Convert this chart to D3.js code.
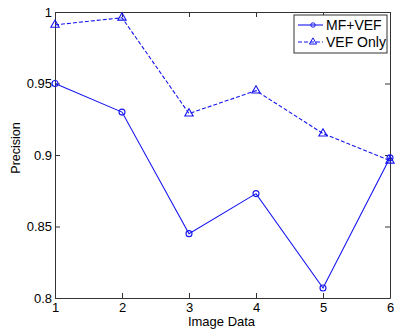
<!DOCTYPE html>
<html>
<head>
<meta charset="utf-8">
<script src="https://cdn.jsdelivr.net/npm/d3@7"></script>
<style>
  body { margin: 0; background: #fff; }
  svg { display: block; font-family: "Liberation Sans", Arial, sans-serif; }
</style>
</head>
<body>
<div id="chart"></div>
<script>
// data
const imageIds = [1, 2, 3, 4, 5, 6];
const mfVef = [0.95, 0.93, 0.845, 0.873, 0.807, 0.898];
const vefOnly = [0.991, 0.996, 0.929, 0.945, 0.915, 0.896];
const yTicks = [0.8, 0.85, 0.9, 0.95, 1];
const seriesNames = ["MF+VEF", "VEF Only"];

const width = 396, height = 333;
const margin = {top: 12, right: 6, bottom: 35, left: 55};
const blue = "#1515f0";

const svg = d3.select("#chart").append("svg")
  .attr("width", width)
  .attr("height", height);

const x = d3.scaleLinear().domain([1, 6]).range([margin.left, width - margin.right]);
const y = d3.scaleLinear().domain([0.8, 1]).range([height - margin.bottom, margin.top]);

const fmt = d => String(+d.toFixed(2));

// axes, MATLAB style ticks pointing inward
const axisStyle = g => {
  g.select(".domain").attr("stroke", "#333");
  g.selectAll(".tick line").attr("stroke", "#333");
  g.selectAll("text").attr("fill", "#000").style("font-size", "13px");
};

svg.append("g")
  .attr("transform", `translate(0,${y(0.8)})`)
  .call(d3.axisBottom(x).tickValues(imageIds).tickSizeInner(-5).tickSizeOuter(0).tickPadding(5).tickFormat(d3.format("d")))
  .call(axisStyle);

svg.append("g")
  .attr("transform", `translate(0,${y(1)})`)
  .call(d3.axisTop(x).tickValues(imageIds).tickSizeInner(-5).tickSizeOuter(0).tickFormat(""))
  .call(axisStyle);

svg.append("g")
  .attr("transform", `translate(${x(1)},0)`)
  .call(d3.axisLeft(y).tickValues(yTicks).tickSizeInner(-5).tickSizeOuter(0).tickPadding(3).tickFormat(fmt))
  .call(axisStyle);

svg.append("g")
  .attr("transform", `translate(${x(6)},0)`)
  .call(d3.axisRight(y).tickValues(yTicks).tickSizeInner(-5).tickSizeOuter(0).tickFormat(""))
  .call(axisStyle);

// axis titles
svg.append("text")
  .attr("x", (x(1) + x(6)) / 2 - 1)
  .attr("y", height - 7)
  .attr("text-anchor", "middle")
  .style("font-size", "13px")
  .text("Image Data");

svg.append("text")
  .attr("transform", `translate(20,148) rotate(-90)`)
  .attr("text-anchor", "middle")
  .style("font-size", "12.5px")
  .text("Precision");

const line = d3.line().x((d, i) => x(imageIds[i])).y(d => y(d));

// MF+VEF solid with circles
svg.append("path")
  .datum(mfVef)
  .attr("fill", "none")
  .attr("stroke", blue)
  .attr("stroke-width", 1.1)
  .attr("d", line);

svg.append("g").selectAll("circle")
  .data(mfVef)
  .join("circle")
  .attr("cx", (d, i) => x(imageIds[i]))
  .attr("cy", d => y(d))
  .attr("r", 3)
  .attr("fill", "none")
  .attr("stroke", blue)
  .attr("stroke-width", 1.1);

// VEF Only dashed with triangles
svg.append("path")
  .datum(vefOnly)
  .attr("fill", "none")
  .attr("stroke", blue)
  .attr("stroke-width", 1.1)
  .attr("stroke-dasharray", "4,2")
  .attr("d", line);

const tri = d3.symbol().type(d3.symbolTriangle).size(30);
svg.append("g").selectAll("path")
  .data(vefOnly)
  .join("path")
  .attr("transform", (d, i) => `translate(${x(imageIds[i])},${y(d)})`)
  .attr("d", tri)
  .attr("fill", "none")
  .attr("stroke", blue)
  .attr("stroke-width", 1.1);

// legend
const lg = svg.append("g").attr("transform", "translate(294,15)");
lg.append("rect")
  .attr("width", 93).attr("height", 38)
  .attr("fill", "#fff").attr("stroke", "#333").attr("stroke-width", 1);

seriesNames.forEach((name, i) => {
  const yy = 10 + i * 17;
  lg.append("line")
    .attr("x1", 4).attr("x2", 29).attr("y1", yy).attr("y2", yy)
    .attr("stroke", blue).attr("stroke-width", 1.1)
    .attr("stroke-dasharray", i ? "4,2" : null);
  if (i === 0) {
    lg.append("circle").attr("cx", 19).attr("cy", yy).attr("r", 2.2)
      .attr("fill", "none").attr("stroke", blue);
  } else {
    lg.append("path").attr("transform", `translate(19,${yy})`)
      .attr("d", d3.symbol().type(d3.symbolTriangle).size(22))
      .attr("fill", "none").attr("stroke", blue);
  }
  lg.append("text")
    .attr("x", 32).attr("y", yy + 5)
    .style("font-size", "14px")
    .text(name);
});
</script>
</body>
</html>
